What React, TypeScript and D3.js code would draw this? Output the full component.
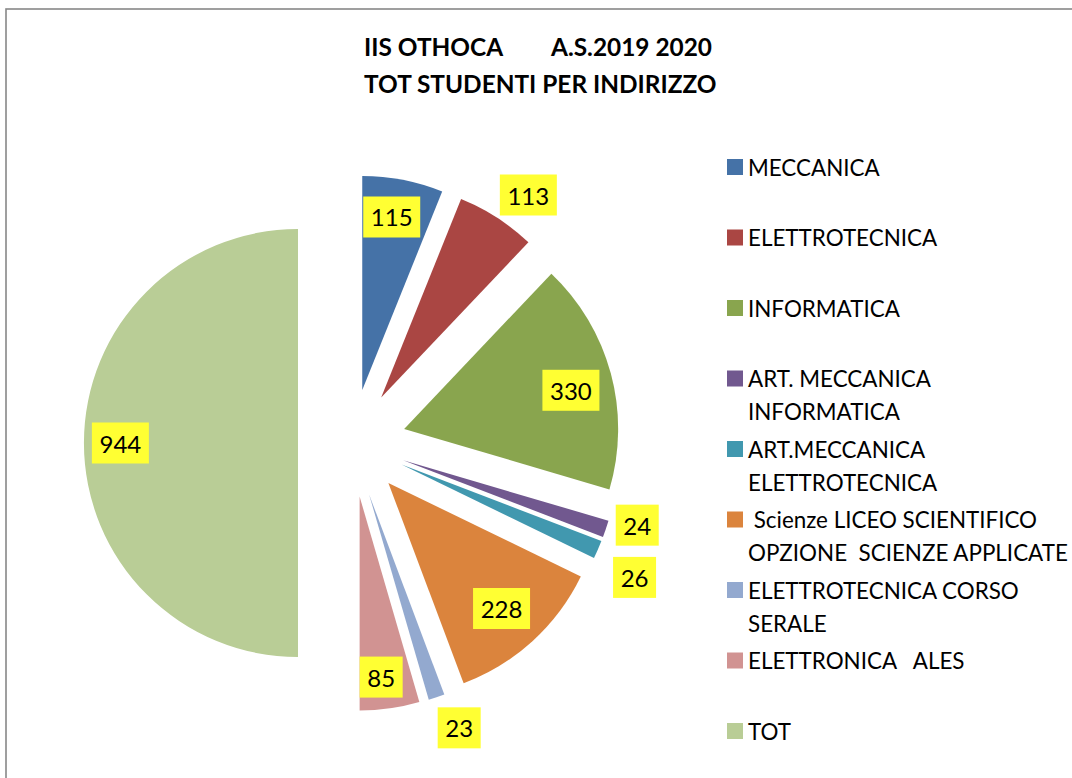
import React from "react";
import * as d3 from "d3";

const categories = [
  "MECCANICA",
  "ELETTROTECNICA",
  "INFORMATICA",
  "ART. MECCANICA|INFORMATICA",
  "ART.MECCANICA|ELETTROTECNICA",
  " Scienze LICEO SCIENTIFICO|OPZIONE  SCIENZE APPLICATE",
  "ELETTROTECNICA CORSO|SERALE",
  "ELETTRONICA   ALES",
  "TOT",
];
const values = [115, 113, 330, 24, 26, 228, 23, 85, 944];
const colors = ["#4572A7", "#AA4643", "#89A54E", "#71588F", "#4198AF", "#DB843D", "#93A9CF", "#D19392", "#B9CD96"];
const titleLines = ["IIS OTHOCA", "A.S.2019 2020", "TOT STUDENTI PER INDIRIZZO"];

// label layout: radial factor & angle nudge (degrees)
const labelRadius = [0.82, 1.17, 0.8, 1.135, 1.21, 0.79, 1.17, 0.85, 0.83];
const labelNudge = [-1.3, 3.3, 2, -3.2, 2.4, 0.3, -2.7, 1.3, 0];

const W = 1072;
const H = 778;
const cx = 352;
const cy = 443;
const R = 214;
const explode = 54;
const FONT = "Lato, 'Open Sans', sans-serif";

export default function App() {
  const pie = d3.pie<number>().sort(null).value((d) => d).startAngle(0).endAngle(2 * Math.PI);
  const arcs = pie(values);
  const arc = d3.arc<d3.PieArcDatum<number>>().innerRadius(0).outerRadius(R);

  const legendY = d3.scaleLinear().domain([0, categories.length - 1]).range([167, 731]);

  return (
    <svg width={W} height={H} style={{ position: "absolute", left: 0, top: 0, background: "#fff" }}>
      <rect x={6} y={9} width={W + 20} height={H + 20} fill="#fff" stroke="#888" strokeWidth={1.6} />
      <g fontFamily={FONT} fontWeight={700} fontSize={24.4} fill="#000">
        <text x={364} y={56}>{titleLines[0]}</text>
        <text x={551} y={56}>{titleLines[1]}</text>
        <text x={364} y={93}>{titleLines[2]}</text>
      </g>
      <g>
        {arcs.map((a, i) => {
          const mid = (a.startAngle + a.endAngle) / 2;
          const dx = Math.sin(mid) * explode;
          const dy = -Math.cos(mid) * explode;
          return (
            <path key={i} d={arc(a) || ""} transform={`translate(${cx + dx},${cy + dy})`} fill={colors[i]} />
          );
        })}
      </g>
      <g fontFamily={FONT} fontSize={24}>
        {arcs.map((a, i) => {
          const mid = (a.startAngle + a.endAngle) / 2;
          const ox = cx + Math.sin(mid) * explode;
          const oy = cy - Math.cos(mid) * explode;
          const ang = mid + (labelNudge[i] * Math.PI) / 180;
          const r = labelRadius[i] * R;
          const lx = ox + Math.sin(ang) * r;
          const ly = oy - Math.cos(ang) * r;
          const txt = String(values[i]);
          const bw = 14 * txt.length + 15;
          const bh = 41;
          return (
            <g key={i}>
              <rect x={lx - bw / 2} y={ly - bh / 2} width={bw} height={bh} fill="#FFFF33" />
              <text x={lx} y={ly} textAnchor="middle" dominantBaseline="central" fill="#000">
                {txt}
              </text>
            </g>
          );
        })}
      </g>
      <g fontFamily={FONT} fontSize={22.4} fill="#000">
        {categories.map((c, i) => {
          const y = legendY(i);
          const lines = c.split("|");
          return (
            <g key={i}>
              <rect x={727} y={y - 8} width={16} height={16} fill={colors[i]} />
              {lines.map((l, j) => (
                <text key={j} x={748} y={y + j * 33} dominantBaseline="central" style={{ whiteSpace: "pre" }}>
                  {l}
                </text>
              ))}
            </g>
          );
        })}
      </g>
    </svg>
  );
}
